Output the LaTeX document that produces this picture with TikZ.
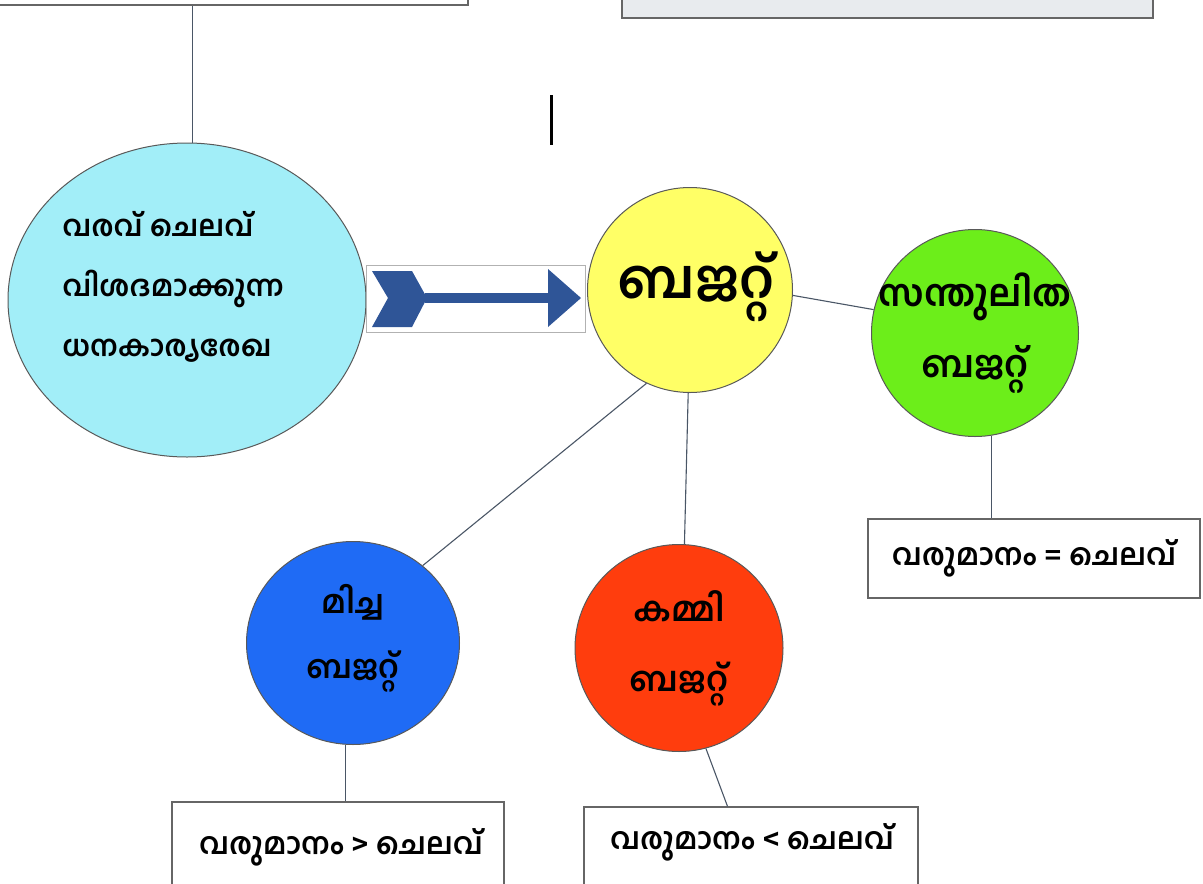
\documentclass[tikz,border=0pt]{standalone}
\usepackage{fontspec}
\newfontfamily\mal[Script=Malayalam]{Hind Kochi}
\usetikzlibrary{shapes.geometric,calc}
\definecolor{cyanf}{HTML}{A2EEF8}
\definecolor{yelf}{HTML}{FFFF66}
\definecolor{grnf}{HTML}{6CEE1A}
\definecolor{redf}{HTML}{FF3D0D}
\definecolor{bluf}{HTML}{1F6BF5}
\definecolor{arrc}{HTML}{2F5597}
\definecolor{linec}{HTML}{4A5666}
\definecolor{boxgray}{HTML}{E8EBEE}
\begin{document}
\begin{tikzpicture}[x=1pt,y=-1pt,
  bub/.style={ellipse,draw=black!65,line width=1pt,inner sep=0pt},
  conn/.style={draw=linec,line width=1.1pt},
  lbox/.style={rectangle,draw=black!60,line width=1.2pt,fill=white,inner sep=0pt},
  mtxt/.style={inner sep=0pt,text=black,align=center},
  every label/.style={inner sep=0pt,text=black,align=center}
  ]
\useasboundingbox (0,0) rectangle (1203,884);
\clip (0,0) rectangle (1203,884);

% top boxes (cut off by the page edge)
\node[lbox,minimum width=480pt,minimum height=80pt] (topl) at (228,-35) {};
\node[lbox,fill=boxgray,minimum width=531pt,minimum height=60pt] (topr) at (887.5,-12) {};

% definition ellipse
\node[bub,fill=cyanf,minimum width=358pt,minimum height=314pt] (def) at (187,300) {};
\node[mtxt,align=left,font=\mal\bfseries\fontsize{29}{60}\selectfont] (deftxt) at (173,287)
  {വരവ് ചെലവ്\\വിശദമാക്കുന്ന\\ധനകാര്യരേഖ};

% arrow
\node[rectangle,draw=black!30,line width=1pt,minimum width=219pt,minimum height=67pt] (arrbox) at (475.5,298.5) {};
\fill[arrc] (372,271) -- (412,271) -- (427,298) -- (412,327) -- (372,327) -- (388,298) -- cycle;
\fill[arrc] (425,293) rectangle (550,303);
\fill[arrc] (548,269) -- (581,298) -- (548,327) -- cycle;

% budget circles
\node[bub,fill=yelf,minimum size=205pt,
  label={[font=\mal\bfseries\fontsize{54}{60}\selectfont,xshift=6pt,yshift=3pt]center:ബജറ്റ്}] (budget) at (690,290) {};
\node[bub,fill=grnf,minimum size=207pt,
  label={[font=\mal\bfseries\fontsize{37}{71}\selectfont]center:സന്തുലിത\\ബജറ്റ്}] (grn) at (975,333) {};
\node[bub,fill=redf,minimum width=208pt,minimum height=207pt,
  label={[font=\mal\bfseries\fontsize{34}{70}\selectfont]center:കമ്മി\\ബജറ്റ്}] (red) at (679,648) {};
\node[bub,fill=bluf,minimum width=213pt,minimum height=203pt,
  label={[font=\mal\bfseries\fontsize{32}{65}\selectfont,yshift=5pt]center:മിച്ച\\ബജറ്റ്}] (blu) at (353,643) {};

% result boxes
\node[lbox,minimum width=332pt,minimum height=79pt,font=\mal\bfseries\fontsize{30}{36}\selectfont] (boxeq) at (1034,558.5) {വരുമാനം = ചെലവ്};
\node[lbox,minimum width=332pt,minimum height=93pt] (boxgt) at (338,848.5) {};
\node[mtxt,font=\mal\bfseries\fontsize{30}{36}\selectfont] (tgt) at (341,847) {വരുമാനം > ചെലവ്};
\node[lbox,minimum width=334pt,minimum height=88pt] (boxlt) at (751,851) {};
\node[mtxt,font=\mal\bfseries\fontsize{30}{36}\selectfont] (tlt) at (752,842) {വരുമാനം < ചെലവ്};

% connectors
\draw[conn] (def.88) -- (def.88 |- topl.south);
\draw[conn] (budget.-3) -- (grn.167);
\draw[conn] (budget.-115) -- (blu.48);
\draw[conn] (budget.-91) -- (red.87);
\draw[conn] (grn.-81) -- (grn.-81 |- boxeq.north);
\draw[conn] (red.-75) -- ($(boxlt.north west)!0.43!(boxlt.north east)$);
\draw[conn] (blu.-94) -- (blu.-94 |- boxgt.north);

% short bar
\draw[line width=3pt] (551,95) -- (551,145);
\end{tikzpicture}
\end{document}
